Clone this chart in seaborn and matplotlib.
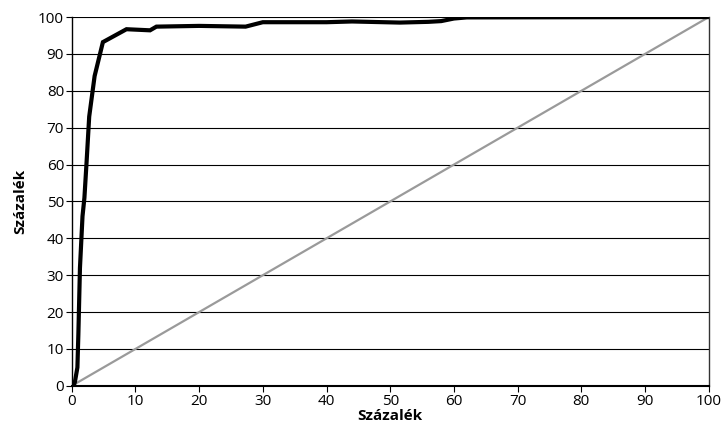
import matplotlib
matplotlib.use("Agg")
import matplotlib.pyplot as plt
import seaborn as sns
import pandas as pd

# Cumulative share curve (percent of population vs percent of total)
curve_x = [0.3, 0.5, 0.9, 1.05, 1.3, 1.7, 2.0, 2.35, 2.75, 3.6, 4.9, 8.6, 12.3, 13.3,
           20, 27.3, 30, 40, 44, 51.5, 56, 58, 60, 62, 100]
curve_y = [0, 1, 5, 14, 32, 46, 51, 61, 73, 84, 93.2, 96.7, 96.4, 97.4,
           97.6, 97.4, 98.6, 98.6, 98.8, 98.5, 98.7, 98.9, 99.6, 99.9, 100]

# Line of equality
diag_x = [0, 100]
diag_y = [0, 100]

tick_vals = list(range(0, 101, 10))
axis_label = "Százalék"

sns.set_theme(style="white")
plt.rcParams["font.family"] = ["Open Sans", "DejaVu Sans"]

fig = plt.figure(figsize=(7.24, 4.37), dpi=100)
ax = fig.add_axes([0.099, 0.117, 0.880, 0.844])

df_curve = pd.DataFrame({"x": curve_x, "y": curve_y})
df_diag = pd.DataFrame({"x": diag_x, "y": diag_y})

sns.lineplot(data=df_diag, x="x", y="y", ax=ax, color="#9a9a9a", linewidth=1.6,
             estimator=None, sort=False)
sns.lineplot(data=df_curve, x="x", y="y", ax=ax, color="black", linewidth=3.0,
             estimator=None, sort=False, solid_joinstyle="miter")

ax.set_xlim(0, 100)
ax.set_ylim(0, 100)
ax.set_xticks(tick_vals)
ax.set_yticks(tick_vals)
ax.set_xticklabels([str(v) for v in tick_vals], fontsize=11, color="black")
ax.set_yticklabels([str(v) for v in tick_vals], fontsize=11, color="black")

ax.yaxis.grid(True, color="black", linewidth=0.8)
ax.xaxis.grid(False)
ax.set_axisbelow(True)

ax.tick_params(axis="both", direction="out", length=4, width=0.8, color="black",
               bottom=True, left=True, pad=1.5)

for side in ["left", "bottom"]:
    ax.spines[side].set_color("black")
ax.spines["left"].set_linewidth(1.0)
ax.spines["bottom"].set_linewidth(1.5)
ax.spines["right"].set_color("#333333")
ax.spines["right"].set_linewidth(1.0)
ax.spines["top"].set_visible(False)

ax.set_xlabel(axis_label, fontsize=11, fontweight="bold", labelpad=0, color="black")
ax.set_ylabel(axis_label, fontsize=11, fontweight="bold", labelpad=8, color="black")

fig.savefig("out.png", dpi=100)
